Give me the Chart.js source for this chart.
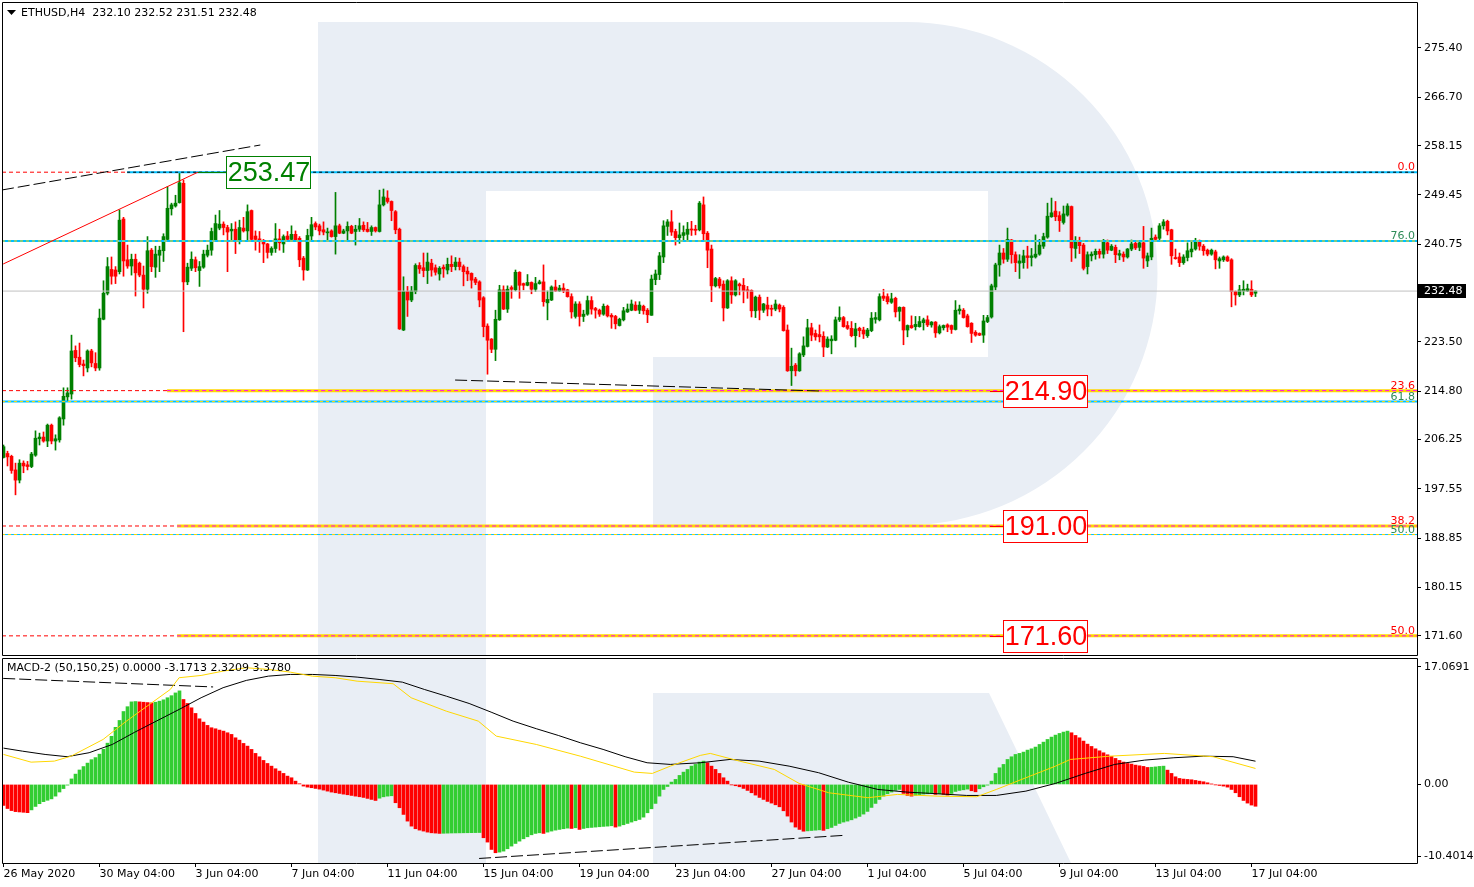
<!DOCTYPE html>
<html><head><meta charset="utf-8">
<script src="https://cdn.jsdelivr.net/npm/chart.js@4.4.1/dist/chart.umd.min.js"></script>
<style>
html,body{margin:0;padding:0;background:#fff;width:1474px;height:887px;overflow:hidden}
canvas{position:absolute;left:0}
#main{top:0}
#macd{top:657px}
</style></head><body>
<canvas id="main" width="1474" height="657"></canvas>
<canvas id="macd" width="1474" height="230"></canvas>
<script>
// ---------------- DATA ----------------
const symbol = 'ETHUSD,H4';
const open = [
203.1,203.8,203.3,200.9,199.1,202.1,201.8,201.5,203.5,206.4,
206.7,206.0,208.8,206.0,206.2,209.9,213.8,214.3,222.0,220.8,
219.6,218.9,221.9,219.7,218.9,227.5,232.1,236.3,236.2,235.9,
245.2,238.0,236.9,238.1,237.4,235.3,232.8,239.7,236.7,238.8,
239.6,241.6,247.0,247.5,248.1,251.5,234.1,236.5,238.0,236.1,
236.7,238.8,239.7,241.4,243.6,244.3,243.7,243.1,243.4,241.4,
243.6,243.1,246.7,242.2,241.7,241.4,240.8,239.3,240.0,241.7,
240.8,242.2,241.6,242.5,241.8,238.3,236.2,242.2,244.4,244.0,
243.3,242.8,243.1,242.1,244.0,242.7,243.1,243.9,243.0,243.4,
244.1,243.4,243.0,243.7,243.0,247.7,248.9,248.3,246.5,243.4,
225.6,232.4,230.9,232.4,237.0,236.6,236.1,237.4,236.6,235.5,
236.7,236.2,237.2,236.8,237.6,236.8,236.0,235.6,234.6,234.1,
231.3,226.3,224.0,222.2,227.4,232.7,229.3,233.1,232.7,235.8,
233.8,233.5,234.0,232.8,233.8,234.1,230.4,230.9,233.2,232.5,
233.0,232.7,231.5,228.0,230.2,228.0,228.4,230.8,229.4,229.1,
228.4,229.8,228.2,228.0,226.4,227.4,228.8,229.1,230.0,229.1,
229.8,229.1,228.2,234.5,235.4,238.5,243.9,244.7,243.0,241.9,
242.3,242.5,243.4,243.4,243.3,247.7,242.7,239.9,233.4,234.6,
233.7,229.5,234.3,231.8,233.7,233.5,232.7,232.6,229.0,231.4,
229.1,230.0,229.4,229.3,230.0,229.6,225.6,218.4,219.4,218.4,
221.2,222.7,226.0,225.0,224.8,224.5,222.6,223.7,223.8,227.4,
227.8,226.4,225.9,224.6,225.9,225.6,224.6,225.5,227.5,227.4,
231.6,231.5,230.5,231.2,228.9,229.6,225.6,226.4,226.2,226.2,
226.9,227.4,226.5,227.0,225.1,226.0,226.5,226.4,225.7,229.0,
229.1,228.1,226.8,225.2,225.0,224.7,227.1,227.9,233.2,237.1,
239.2,238.1,241.5,238.9,237.4,237.5,238.7,238.4,238.5,239.0,
240.4,242.0,245.6,246.6,245.8,244.6,245.9,247.4,240.0,241.2,
240.6,236.8,238.7,238.9,239.5,239.0,241.0,239.7,240.2,238.8,
239.0,238.5,239.9,240.9,240.2,241.0,237.8,238.5,242.0,241.8,
244.0,244.8,243.3,238.4,238.5,237.5,238.4,239.4,239.9,241.4,
240.4,239.7,239.0,239.4,237.8,238.0,238.5,238.0,232.4,231.8,
232.5,232.5,232.8,232.10];
const high = [
205.3,204.2,203.5,202.1,202.7,202.5,202.4,204.0,207.8,207.4,
207.6,209.0,209.0,207.1,210.3,215.4,215.4,224.7,222.8,223.3,
220.3,222.1,222.2,221.6,229.3,234.3,238.4,238.5,236.8,246.8,
245.5,240.6,239.0,239.0,237.6,236.9,242.1,240.0,240.4,240.4,
242.6,250.9,248.0,249.4,253.47,252.1,237.4,239.4,238.5,237.7,
239.7,240.6,243.6,245.9,246.7,244.7,244.1,244.4,244.7,245.0,
245.5,247.7,246.8,243.1,243.0,241.6,240.9,240.3,244.4,243.4,
242.4,243.0,244.0,243.1,242.1,238.6,243.4,245.5,244.7,244.3,
244.7,243.6,243.3,249.9,244.3,243.4,244.7,244.1,244.1,245.3,
244.7,244.6,244.0,243.8,250.3,250.5,250.2,248.4,246.7,243.6,
235.0,233.3,233.3,237.3,237.5,239.2,239.2,238.1,237.1,236.8,
237.1,238.3,238.7,238.4,238.3,237.1,236.7,235.7,234.9,234.3,
231.5,226.7,224.1,229.1,233.5,233.4,233.4,233.4,236.2,235.9,
233.9,235.4,234.1,234.9,234.4,237.1,232.5,233.4,234.4,233.5,
233.8,232.8,232.0,230.6,230.6,229.1,231.6,231.5,229.6,229.3,
230.2,230.0,228.5,228.2,227.7,229.6,230.2,230.9,230.6,230.6,
230.0,229.4,235.3,236.2,239.3,244.9,245.1,246.7,243.4,244.5,
244.0,244.6,244.8,244.1,248.3,249.1,243.0,240.6,234.9,234.9,
234.3,234.5,235.0,234.5,233.9,234.7,233.3,232.7,231.6,231.8,
230.3,231.4,230.0,230.9,230.2,229.9,226.5,222.4,219.7,221.6,
224.4,227.5,226.8,225.6,226.5,225.3,224.4,224.6,227.9,229.7,
228.0,227.1,227.1,226.8,226.1,226.1,225.9,228.7,228.7,232.0,
232.8,232.0,232.1,231.4,229.7,229.7,226.5,228.1,228.0,228.0,
227.7,228.1,227.1,227.1,226.5,226.5,226.7,226.5,230.8,230.0,
229.4,228.4,226.9,225.5,225.1,228.2,228.2,233.7,237.4,240.6,
240.0,243.6,241.6,239.4,238.9,239.7,240.4,240.0,242.4,241.6,
242.7,248.0,248.9,248.3,246.5,247.5,247.9,247.5,242.1,242.0,
240.9,239.4,239.4,239.9,239.9,241.6,241.5,240.7,240.6,239.7,
239.4,240.0,241.5,241.2,241.4,243.9,239.2,243.6,242.4,244.4,
245.1,245.0,243.4,239.9,239.2,238.9,241.0,241.2,241.8,241.5,
240.7,239.9,239.9,239.7,238.5,238.7,238.7,238.2,232.5,233.5,
234.3,233.7,234.3,232.52];
const low = [
203.0,201.6,200.3,196.5,198.6,200.4,200.9,201.3,203.3,205.3,
205.8,205.0,205.5,204.4,205.8,208.8,213.1,213.4,220.0,219.1,
217.5,218.2,219.1,218.4,218.5,227.4,231.8,233.7,233.8,235.5,
235.1,236.5,235.3,231.6,235.0,229.5,232.1,235.9,234.9,235.9,
237.7,241.5,245.9,247.3,248.0,225.3,233.6,236.1,235.9,233.3,
236.5,238.5,238.8,241.2,243.3,242.4,235.9,241.5,239.1,240.8,
242.9,241.2,241.2,239.7,239.3,237.5,238.3,238.8,239.3,239.7,
239.3,241.5,241.2,241.4,236.8,234.4,236.1,241.5,243.3,242.4,
242.4,241.2,242.0,239.0,242.6,242.6,241.2,242.6,240.6,243.0,
243.0,242.9,242.3,242.9,242.9,247.5,248.0,244.9,242.6,225.7,
225.5,228.0,230.6,232.0,235.6,235.0,233.8,235.1,235.3,234.4,
234.9,235.5,235.9,236.2,236.2,233.4,234.3,233.0,233.6,229.7,
224.4,217.8,221.6,220.2,227.3,229.2,228.7,231.2,232.5,231.2,
232.7,233.4,232.0,232.4,233.7,229.8,227.4,230.8,232.4,232.4,
232.2,231.4,227.7,227.7,226.3,227.1,228.2,228.4,227.7,228.0,
228.2,227.9,225.9,225.8,226.3,227.2,228.7,229.0,229.0,228.5,
228.4,226.9,228.2,233.6,234.5,237.5,242.3,242.3,240.6,240.9,
241.4,241.4,242.3,242.4,243.1,241.5,236.6,230.6,233.2,233.0,
227.2,229.4,230.3,231.6,231.8,230.4,231.2,227.9,227.8,227.4,
228.7,228.1,228.1,229.0,228.8,225.4,218.3,215.8,217.5,218.3,
220.9,222.6,223.7,223.8,223.5,220.9,222.5,221.4,223.7,227.1,
226.1,225.7,224.4,222.6,224.4,224.1,224.3,225.3,226.8,227.2,
230.8,230.2,230.3,227.9,227.2,223.0,224.4,225.9,225.6,226.1,
225.6,226.2,226.1,224.3,224.9,225.6,225.3,225.0,225.6,228.4,
227.7,226.1,223.4,224.5,224.6,223.4,226.9,227.7,232.7,235.1,
237.4,237.7,237.4,235.9,234.7,236.5,236.5,236.9,238.3,238.8,
240.0,241.8,245.5,244.9,243.0,244.3,245.7,237.7,238.3,239.1,
236.2,235.5,237.8,238.1,238.3,238.3,239.1,239.6,237.5,238.0,
237.7,238.3,239.6,239.8,239.6,236.5,236.8,238.0,241.2,241.2,
243.4,242.4,237.2,238.1,236.8,237.2,237.8,238.5,239.7,239.7,
238.8,238.7,238.8,236.4,236.5,237.7,237.7,229.7,230.0,231.5,
231.8,232.4,231.5,231.51];
const close = [
205.0,203.2,200.8,199.1,202.1,201.6,201.5,203.7,206.5,206.7,
206.0,208.8,206.0,206.4,210.1,213.9,214.5,221.9,220.7,219.5,
219.3,221.9,219.8,218.9,227.7,232.1,236.8,235.1,235.1,245.0,
237.8,236.9,238.1,235.7,235.3,232.8,239.6,236.8,239.0,239.7,
242.1,247.1,247.7,248.0,251.6,234.1,236.7,238.1,236.6,236.8,
239.0,239.7,243.0,244.4,244.3,243.7,242.9,243.4,241.4,243.7,
243.1,246.5,241.6,241.6,241.4,240.8,239.3,240.0,241.7,241.0,
242.1,241.6,242.5,241.5,238.0,236.2,242.3,244.2,243.8,243.1,
242.9,242.9,242.1,244.0,242.7,243.1,243.9,242.7,243.4,244.0,
243.3,243.0,243.7,243.1,247.7,249.1,248.3,246.7,243.3,225.8,
232.4,230.9,232.5,237.0,236.4,236.1,237.6,236.2,235.8,236.5,
236.4,237.2,236.8,237.6,236.8,235.9,235.5,234.4,234.0,230.9,
226.2,223.8,222.2,227.5,232.7,229.3,232.8,232.8,235.8,233.5,
233.5,234.0,232.8,233.8,234.1,230.6,231.0,233.2,232.5,233.0,
232.5,231.5,228.8,230.2,228.0,228.4,230.8,229.3,229.1,228.4,
229.8,228.1,227.9,226.7,227.5,229.0,229.3,230.2,229.1,230.0,
229.0,228.3,234.6,235.5,238.7,244.0,244.7,242.9,241.9,242.4,
242.8,243.4,243.3,243.2,248.0,242.6,239.7,233.4,234.7,233.4,
229.5,234.3,231.8,234.3,233.4,232.5,232.5,229.0,231.4,229.1,
230.2,229.3,229.3,230.2,229.3,225.5,218.4,219.2,218.4,221.4,
222.8,226.0,224.7,224.4,224.4,222.6,224.0,224.0,227.4,227.8,
226.2,225.9,224.6,225.8,225.5,224.9,225.6,227.7,227.8,231.5,
231.2,230.6,231.1,228.8,229.6,225.6,226.4,226.0,226.6,227.1,
227.4,226.5,227.0,225.1,226.2,226.4,226.1,225.7,229.1,229.3,
227.8,226.2,225.0,224.7,224.7,227.2,227.8,233.4,237.1,239.2,
238.1,241.6,238.9,237.5,237.8,238.7,238.4,238.7,239.0,240.6,
242.1,245.7,246.3,245.6,244.9,246.1,247.5,240.1,241.2,240.5,
236.5,238.9,239.0,239.5,239.0,241.2,239.7,240.4,238.9,239.1,
238.5,239.9,240.8,240.1,241.0,238.3,238.7,241.8,241.6,244.0,
244.7,243.1,238.7,238.2,237.5,238.5,239.6,239.9,241.4,240.4,
239.6,239.0,239.7,238.0,238.2,238.5,237.8,232.4,231.8,232.7,
232.8,232.9,231.8,232.48];

// MACD-2 histogram per bar
const hist = [
-3.05,-3.5,-3.8,-3.95,-4.0,-4.05,-4.1,-3.7,-3.2,-2.8,
-2.5,-2.3,-2.1,-1.7,-1.1,-0.6,-0.1,0.8,1.5,2.1,
2.6,3.1,3.6,3.9,4.4,5.1,6.0,7.0,8.3,9.3,
10.6,11.3,12.0,12.05,12.0,11.95,11.9,11.85,11.95,12.1,
12.3,12.6,12.9,13.3,13.6,12.35,11.77,11.14,10.32,9.54,
9.06,8.58,8.24,8.09,7.90,7.75,7.51,7.27,6.78,6.44,
5.96,5.57,5.09,4.51,4.02,3.49,3.05,2.66,2.28,1.94,
1.60,1.21,0.97,0.48,0.10,-0.24,-0.39,-0.48,-0.58,-0.68,
-0.82,-0.97,-1.11,-1.21,-1.31,-1.41,-1.50,-1.60,-1.70,-1.79,
-1.89,-2.03,-2.18,-2.33,-2.0,-1.8,-1.7,-1.65,-2.66,-3.39,
-4.36,-5.33,-6.06,-6.44,-6.64,-6.78,-6.93,-7.03,-7.07,-7.12,
-7.10,-7.08,-7.06,-7.05,-7.04,-7.03,-7.02,-7.01,-7.00,-6.99,
-7.75,-8.38,-9.45,-9.93,-9.84,-9.69,-9.35,-8.96,-8.58,-8.24,
-7.90,-7.61,-7.32,-7.12,-7.03,-7.12,-6.93,-6.78,-6.64,-6.54,
-6.44,-6.35,-6.40,-6.30,-6.54,-6.40,-6.30,-6.25,-6.20,-6.15,
-6.10,-6.06,-6.01,-6.20,-6.06,-5.86,-5.67,-5.47,-5.28,-5.09,
-4.75,-4.12,-3.54,-2.76,-1.70,-0.73,-0.3,0.34,0.73,1.31,
1.79,2.18,2.66,2.91,3.25,3.39,3.15,2.66,2.18,1.60,
0.97,0.48,-0.05,-0.19,-0.34,-0.58,-0.87,-1.21,-1.55,-1.89,
-2.18,-2.47,-2.71,-2.96,-3.25,-3.83,-4.60,-5.47,-6.20,-6.54,
-6.80,-6.75,-6.70,-6.65,-6.60,-6.68,-6.44,-6.25,-5.96,-5.67,
-5.47,-5.33,-5.14,-4.89,-4.65,-4.31,-3.92,-3.34,-2.76,-2.18,
-1.70,-1.36,-1.11,-0.87,-0.73,-1.31,-1.60,-1.70,-1.60,-1.50,
-1.41,-1.36,-1.26,-1.45,-1.36,-1.45,-1.55,-1.31,-1.02,-0.87,
-0.78,-0.68,-0.92,-1.07,-0.63,-0.34,-0.10,0.48,1.60,2.42,
2.91,3.63,4.02,4.36,4.51,4.70,4.99,5.18,5.43,5.81,
6.15,6.54,6.88,7.17,7.41,7.61,7.75,7.51,7.12,6.78,
6.30,5.86,5.52,5.18,4.89,4.60,4.31,4.07,3.78,3.49,
3.25,3.05,2.96,2.81,2.71,2.62,2.47,2.50,2.55,2.62,
2.66,2.08,1.60,1.11,0.87,0.78,0.73,0.68,0.58,0.48,
0.39,0.24,0.05,-0.05,-0.15,-0.24,-0.39,-0.73,-1.21,-1.79,
-2.33,-2.71,-3.00,-3.1713];

// MACD lines, read at bar positions
const blackBar = [0,4.7,10.4,15.9,21.4,27.2,32.7,38.2,43.9,49.4,54.9,60.7,66.2,71.7,77.2,82.9,88.4,93.9,99.7,105.2,110.7,116.4,121.9,127.4,133.2,138.7,144.2,149.9,155.4,160.9,166.7,174.2,181.6,188.9,196.4,203.8,211.2,218.6,226,233.4,240.8,248.2,255.6,263,270.4,277.8,285.2,292.6,300,307.4,313];
const blackVal = [5.28,4.84,4.36,4.03,4.61,5.81,7.56,9.20,10.90,12.60,14.06,15.12,15.74,15.99,15.99,15.84,15.60,15.26,14.87,13.81,12.83,11.77,10.51,9.20,8.10,7.12,6.06,5.09,4.03,3.15,2.91,3.15,3.63,3.39,2.66,1.70,0.33,-0.73,-1.12,-1.35,-1.60,-1.60,-0.97,0.15,1.60,2.91,3.53,3.88,4.11,4.03,3.3780];
const yellowBar = [0,6.9,12.7,16.9,24.9,30.4,35.9,41.7,43.9,49.4,54.9,60.7,66.2,71.7,77.2,82.9,88.4,97.4,101.9,110.7,118.7,123.2,133.2,144.2,157.7,162.2,166.7,174.2,176.7,184,192.7,198.9,206.3,216.1,223.5,233.4,243.3,248.2,255.6,263,266.7,276.6,290.2,302.4,313];
const yellowVal = [4.36,3.24,3.39,4.11,6.54,9.06,11.38,13.81,15.51,15.84,16.47,16.96,16.72,16.32,15.74,15.51,15.01,14.64,12.60,10.65,9.20,7.02,5.81,4.11,1.79,1.60,2.66,4.22,4.51,3.39,2.18,0.15,-1.21,-1.93,-1.45,-1.70,-1.79,-0.73,0.97,2.66,3.63,4.11,4.51,4.03,2.3209];

// time axis
const timeTickBars = [0,24,48,72,96,120,144,168,192,216,240,264,288,312];
const timeTickLabels = ['26 May 2020','30 May 04:00','3 Jun 04:00','7 Jun 04:00','11 Jun 04:00','15 Jun 04:00','19 Jun 04:00','23 Jun 04:00','27 Jun 04:00','1 Jul 04:00','5 Jul 04:00','9 Jul 04:00','13 Jul 04:00','17 Jul 04:00'];
// price axis
const priceTicks = [275.40,266.70,258.15,249.45,240.75,223.50,214.80,206.25,197.55,188.85,180.15,171.60];
const macdTicks = [17.0691, 0, -10.4014];
const macdTickLabels = ['17.0691','0.00','-10.4014'];

// fibonacci levels
const fibPrices = [253.47, 241.32, 214.90, 212.97, 191.00, 189.49, 171.60];
const fibTexts = ['0.0','76.0','23.6','61.8','38.2','50.0','50.0'];
const fibStartBar = [30.9, null, 40.9, null, 43.4, null, 43.4];
// labelled levels
const bigLabelPrices = [253.47, 214.90, 191.00, 171.60];
const bigLabelBar = [55.7, 249.9, 249.9, 249.9];
// trend lines [bar0, value0, bar1, value1]
const priceTrends = [[-0.375,250.33,64.2,258.27],[-0.075,237.26,48.7,253.5],[112.9,216.77,204.2,214.83]];
const macdTrends = [[-0.075,15.41,52.4,14.17],[118.9,-10.76,209.9,-7.41]];

// ---------------- STYLE / LAYOUT ----------------
const FONT = '"DejaVu Sans"';
Chart.defaults.font.family = FONT;
Chart.defaults.font.size = 11;
Chart.defaults.color = '#000';
const X_MIN = -0.375, X_MAX = 353.375;
const P_MIN = 168.22, P_MAX = 283.52;
const M_MIN = -11.4188, M_MAX = 18.3772;
const WM = '#e9eef5';
const CG = '#008000', CR = '#ff0000';
const fibKind = ['blue','blue','gold','blue','gold','thin','gold'];
const fibTextColor = ['#ff0000','#2e8b57','#ff0000','#2e8b57','#ff0000','#2e8b57','#ff0000'];
const bigLabelColor = ['#008000','#ff0000','#ff0000','#ff0000'];

const N = close.length;
const bars = close.map((_, i) => i);
const candleColors = bars.map(i => close[i] >= open[i] ? CG : CR);
const wickData = bars.map(i => ({x: i, y: [Math.min(low[i], open[i], close[i]), Math.max(high[i], open[i], close[i])]}));
const bodyData = bars.map(i => {
  let a = Math.min(open[i], close[i]), b = Math.max(open[i], close[i]);
  if (b - a < 0.18) { const m = (a + b) / 2; a = m - 0.09; b = m + 0.09; }
  return {x: i, y: [a, b]};
});
const histColors = hist.map((v, i) => (i > 0 && v >= hist[i - 1]) ? '#32cd32' : '#ff0000');

function lineDS(pts, color, width, dash, order) {
  return {type: 'line', data: pts, borderColor: color, borderWidth: width, borderDash: dash || [],
          pointRadius: 0, fill: false, tension: 0, order: order};
}
function seg(x0, y0, x1, y1) { return [{x: x0, y: y0}, {x: x1, y: y1}]; }
function noPad(s) { s.paddingTop = 0; s.paddingBottom = 0; s.paddingLeft = 0; s.paddingRight = 0; }

// main chart datasets
const mainSets = [];
fibPrices.forEach((p, k) => {
  const s = fibStartBar[k] === null ? X_MIN : fibStartBar[k];
  if (fibStartBar[k] !== null) mainSets.push(lineDS(seg(X_MIN, p, s, p), '#ff0000', 1, [4, 3], 8));
  if (fibKind[k] === 'gold') {
    mainSets.push(lineDS(seg(s, p, X_MAX, p), '#ffd700', 3, [], 8));
    mainSets.push(lineDS(seg(s, p, X_MAX, p), '#ff00ff', 1, [4, 3], 7));
  } else {
    mainSets.push(lineDS(seg(s, p, X_MAX, p), '#00bfff', fibKind[k] === 'thin' ? 1 : 2, [], 8));
    mainSets.push(lineDS(seg(s, p, X_MAX, p), k === 0 ? '#000000' : '#ffd700', 1, [3, 3], 7));
  }
});
mainSets.push(lineDS(seg(X_MIN, close[N - 1], X_MAX, close[N - 1]), '#c0c0c0', 1, [], 9));
mainSets.push(lineDS(seg(...priceTrends[0]), '#000', 1, [12, 4], 5));
mainSets.push(lineDS(seg(...priceTrends[1]), '#ff0000', 1, [], 5));
mainSets.push(lineDS(seg(...priceTrends[2]), '#000', 1, [12, 4], 5));
mainSets.push({type: 'bar', data: bodyData, backgroundColor: candleColors, barThickness: 3, grouped: false, order: 19});
mainSets.push({type: 'bar', data: wickData, backgroundColor: candleColors, barThickness: 1, grouped: false, order: 20});

function frame(ctx, a) {
  ctx.strokeStyle = '#000'; ctx.lineWidth = 1; ctx.setLineDash([]);
  ctx.beginPath();
  ctx.moveTo(a.left + 0.5, a.top + 0.5); ctx.lineTo(a.right + 0.5, a.top + 0.5);
  ctx.lineTo(a.right + 0.5, a.bottom + 0.5); ctx.lineTo(a.left + 0.5, a.bottom + 0.5);
  ctx.closePath(); ctx.stroke();
}

const mainDecor = {
  id: 'mainDecor',
  beforeDatasetsDraw(chart) {
    const {ctx, chartArea: a} = chart;
    ctx.save();
    ctx.beginPath(); ctx.rect(a.left, a.top, a.right - a.left, a.bottom - a.top); ctx.clip();
    ctx.fillStyle = WM;
    ctx.fillRect(318, 22, 168, a.bottom - 22);
    ctx.beginPath();
    ctx.moveTo(486, 22); ctx.lineTo(906, 22);
    ctx.arc(906, 273.5, 251.5, -Math.PI / 2, Math.PI / 2, false);
    ctx.lineTo(486, 525); ctx.closePath(); ctx.fill();
    ctx.fillStyle = '#fff';
    ctx.fillRect(486, 191, 502, 166);
    ctx.fillRect(486, 357, 167, 168);
    ctx.restore();
  },
  afterDatasetsDraw(chart) {
    const {ctx, chartArea: a, scales} = chart;
    const xs = scales.x, ys = scales.y;
    ctx.save();
    frame(ctx, a);
    ctx.font = '11px ' + FONT; ctx.textAlign = 'right'; ctx.textBaseline = 'bottom';
    fibPrices.forEach((p, k) => {
      ctx.fillStyle = fibTextColor[k];
      ctx.fillText(fibTexts[k], 1415, Math.round(ys.getPixelForValue(p)) + 1);
    });
    bigLabelPrices.forEach((p, k) => {
      const bx = Math.round(xs.getPixelForValue(bigLabelBar[k]));
      const yc = Math.round(ys.getPixelForValue(p));
      const col = bigLabelColor[k];
      ctx.strokeStyle = col; ctx.lineWidth = 1;
      ctx.beginPath(); ctx.moveTo(bx - (k === 0 ? 28 : 13), yc + 0.5); ctx.lineTo(bx, yc + 0.5); ctx.stroke();
      ctx.fillStyle = '#fff'; ctx.fillRect(bx, yc - 16, 85, 33);
      ctx.strokeRect(bx + 0.5, yc - 15.5, 84, 32);
      ctx.fillStyle = col; ctx.font = '27px "Liberation Sans"';
      ctx.textAlign = 'center'; ctx.textBaseline = 'middle';
      ctx.fillText(p.toFixed(2), bx + 43, yc + 1.5);
    });
    ctx.fillStyle = '#000';
    ctx.beginPath(); ctx.moveTo(7, 10); ctx.lineTo(16, 10); ctx.lineTo(11.5, 15); ctx.closePath(); ctx.fill();
    ctx.font = '11px ' + FONT; ctx.textAlign = 'left'; ctx.textBaseline = 'middle';
    ctx.fillText(symbol + '  ' + [open[N-1], high[N-1], low[N-1], close[N-1]].map(v => v.toFixed(2)).join(' '), 21, 13);
    const yc = Math.round(ys.getPixelForValue(close[N - 1]));
    ctx.fillStyle = '#000'; ctx.fillRect(a.right + 1, yc - 7, 48, 14);
    ctx.fillStyle = '#fff'; ctx.fillText(close[N - 1].toFixed(2), a.right + 7, yc + 0.5);
    ctx.restore();
  }
};

new Chart(document.getElementById('main'), {
  type: 'bar',
  data: {datasets: mainSets},
  options: {
    responsive: false, animation: false, devicePixelRatio: 1,
    layout: {padding: {left: 2, top: 2, right: 0, bottom: 2}},
    plugins: {legend: {display: false}, tooltip: {enabled: false}},
    scales: {
      x: {type: 'linear', display: false, min: X_MIN, max: X_MAX, offset: false, grid: {offset: false}},
      y: {type: 'linear', position: 'right', min: P_MIN, max: P_MAX,
          afterFit: s => { s.width = 57; noPad(s); },
          afterBuildTicks: s => { s.ticks = priceTicks.map(v => ({value: v})); },
          ticks: {callback: v => Number(v).toFixed(2), padding: 3, autoSkip: false},
          grid: {drawOnChartArea: false, drawTicks: true, tickLength: 4, color: '#000'},
          border: {display: false}}
    }
  },
  plugins: [mainDecor]
});

// MACD chart
const macdSets = [
  lineDS(blackBar.map((b, k) => ({x: b, y: blackVal[k]})), '#000', 1, [], 2),
  lineDS(yellowBar.map((b, k) => ({x: b, y: yellowVal[k]})), '#ffd700', 1, [], 1),
  lineDS(seg(...macdTrends[0]), '#000', 1, [12, 4], 3),
  lineDS(seg(...macdTrends[1]), '#000', 1, [12, 4], 3),
  {type: 'bar', data: hist.map((v, i) => ({x: i, y: v})), backgroundColor: histColors, barThickness: 3, grouped: false, order: 10}
];
const macdDecor = {
  id: 'macdDecor',
  beforeDatasetsDraw(chart) {
    const {ctx, chartArea: a} = chart;
    const off = 657;
    ctx.save();
    ctx.beginPath(); ctx.rect(a.left, a.top, a.right - a.left, a.bottom - a.top); ctx.clip();
    ctx.fillStyle = WM;
    ctx.fillRect(318, a.top, 168, a.bottom - a.top);
    ctx.beginPath();
    ctx.moveTo(653, 693 - off); ctx.lineTo(989, 693 - off); ctx.lineTo(1071, 863 - off); ctx.lineTo(653, 863 - off);
    ctx.closePath(); ctx.fill();
    ctx.restore();
  },
  afterDatasetsDraw(chart) {
    const {ctx, chartArea: a} = chart;
    ctx.save();
    frame(ctx, a);
    ctx.fillStyle = '#000'; ctx.font = '11px ' + FONT; ctx.textAlign = 'left'; ctx.textBaseline = 'middle';
    ctx.fillText('MACD-2 (50,150,25) 0.0000 ' + hist[N - 1].toFixed(4) + ' ' + yellowVal[yellowVal.length - 1].toFixed(4) + ' ' + blackVal[blackVal.length - 1].toFixed(4), 7, 11);
    ctx.restore();
  }
};
new Chart(document.getElementById('macd'), {
  type: 'bar',
  data: {datasets: macdSets},
  options: {
    responsive: false, animation: false, devicePixelRatio: 1,
    layout: {padding: {left: 2, top: 1, right: 0, bottom: 0}},
    plugins: {legend: {display: false}, tooltip: {enabled: false}},
    scales: {
      x: {type: 'linear', position: 'bottom', min: X_MIN, max: X_MAX, offset: false,
          afterFit: s => { s.height = 24; noPad(s); },
          afterBuildTicks: s => { s.ticks = timeTickBars.map(v => ({value: v})); },
          ticks: {align: 'start', autoSkip: false, maxRotation: 0, minRotation: 0, padding: 1,
                  callback: (v, i) => timeTickLabels[i]},
          grid: {drawOnChartArea: false, drawTicks: true, tickLength: 4, color: '#000', offset: false},
          border: {display: false}},
      y: {type: 'linear', position: 'right', min: M_MIN, max: M_MAX,
          afterFit: s => { s.width = 57; noPad(s); },
          afterBuildTicks: s => { s.ticks = macdTicks.map(v => ({value: v})); },
          ticks: {callback: (v, i) => macdTickLabels[i], padding: 3, autoSkip: false},
          grid: {drawOnChartArea: false, drawTicks: true, tickLength: 4, color: '#000'},
          border: {display: false}}
    }
  },
  plugins: [macdDecor]
});
</script>
</body></html>
